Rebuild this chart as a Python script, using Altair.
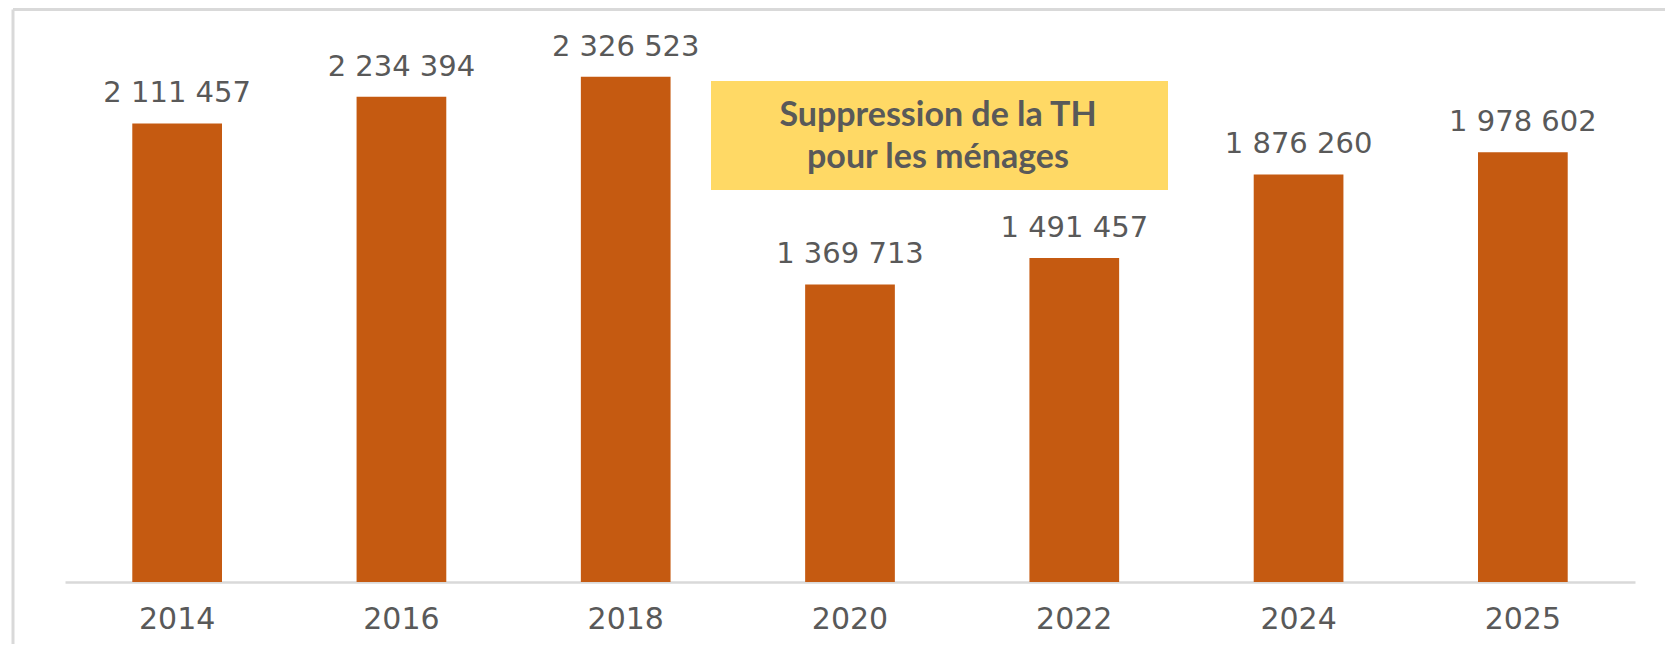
import altair as alt
import pandas as pd

years = ["2014", "2016", "2018", "2020", "2022", "2024", "2025"]
values = [2111457, 2234394, 2326523, 1369713, 1491457, 1876260, 1978602]
note_lines = ["Suppression de la TH", "pour les ménages"]

df = pd.DataFrame({
    "year": years,
    "value": values,
    "label": [f"{v:,}".replace(",", " ") for v in values],
})
one = pd.DataFrame({"k": [0]})

W, H = 1570, 543
PAD = {"left": 57, "top": 31, "right": 30, "bottom": 62}

x = alt.X("year:N", sort=years,
          scale=alt.Scale(paddingInner=0.6, paddingOuter=0.3),
          axis=alt.Axis(title=None, labelAngle=0, ticks=False,
                        domainColor="#D9D9D9", domainWidth=2.5,
                        labelFont="DejaVu Sans", labelFontSize=30,
                        labelColor="#595959", labelBaseline="alphabetic",
                        labelPadding=46))
y = alt.Y("value:Q", scale=alt.Scale(domain=[0, 2500000], nice=False),
          axis=None)

base = alt.Chart(df)
bars = base.mark_bar(color="#C55A11").encode(x=x, y=y)
labels = base.mark_text(font="DejaVu Sans", fontSize=29, color="#595959",
                        baseline="alphabetic", dy=-21).encode(
    x=x, y=y, text="label:N")

# decorative frame (top and left borders)
frame_top = alt.Chart(one).mark_rule(color="#D9D9D9", strokeWidth=3).encode(
    x=alt.value(-52), x2=alt.value(W + PAD["right"]), y=alt.value(-29.5))
frame_left = alt.Chart(one).mark_rule(color="#D9D9D9", strokeWidth=3).encode(
    x=alt.value(-52), y=alt.value(-29.5), y2=alt.value(H + PAD["bottom"]))

box = alt.Chart(one).mark_rect(color="#FFD965").encode(
    x=alt.value(646), x2=alt.value(1103), y=alt.value(42), y2=alt.value(151))
note = alt.Chart(one).mark_text(font="Lato", fontWeight="bold", fontSize=34,
                                color="#595959", baseline="alphabetic",
                                align="center", lineHeight=42).encode(
    x=alt.value(873), y=alt.value(87), text=alt.value(note_lines))

chart = alt.layer(frame_top, frame_left, bars, labels, box, note).properties(
    width=W, height=H,
    autosize=alt.AutoSizeParams(type="none"),
    padding=PAD,
    background="white",
).configure_view(strokeWidth=0, stroke="transparent")

chart.save("out.html", embed_options={"renderer": "svg", "actions": False})
